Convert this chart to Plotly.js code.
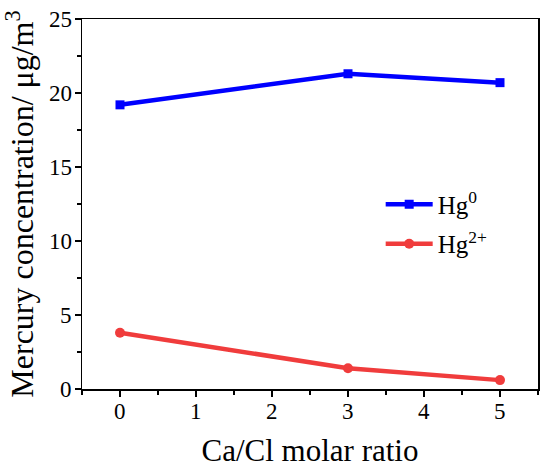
<!DOCTYPE html>
<html><head><meta charset="utf-8">
<script src="https://cdn.plot.ly/plotly-3.0.1.min.js"></script>
<style>html,body{margin:0;padding:0;background:#fff}</style>
</head><body><div id="chart" style="width:550px;height:475px"></div>
<script>
const ratios = [0, 3, 5];
const hg0 = [19.2, 21.3, 20.7];
const hg2 = [3.8, 1.4, 0.6];
const seriesNames = ['Hg<sup>0</sup>', 'Hg<sup>2+</sup>'];
const xTicks = [0, 1, 2, 3, 4, 5];
const yTicks = [0, 5, 10, 15, 20, 25];

const fam = 'Liberation Serif';
const f = (s) => ({family: fam, size: s, color: '#000'});
const traces = [
  {x: ratios, y: hg0, name: seriesNames[0], legendgroup: 'a', type: 'scatter', mode: 'lines+markers',
   line: {color: '#0000ff', width: 4.5}, marker: {symbol: 'square', size: 9, color: '#0000ff'}},
  {x: ratios, y: hg2, name: seriesNames[1], legendgroup: 'b', type: 'scatter', mode: 'lines+markers',
   line: {color: '#f03c3c', width: 4.5}, marker: {symbol: 'circle', size: 10, color: '#f03c3c'}}
];
const tickAnn = [].concat(
  xTicks.map(v => ({xref: 'x', x: v, yref: 'paper', y: 0, yanchor: 'top', xanchor: 'center',
                    yshift: -8, showarrow: false, text: String(v), font: f(23)})),
  yTicks.map(v => ({xref: 'paper', x: 0, yref: 'y', y: v, xanchor: 'right', yanchor: 'middle',
                    xshift: -8, showarrow: false, text: String(v), font: f(23)}))
);
const layout = {
  width: 550, height: 475,
  margin: {l: 82, r: 12, t: 19, b: 86},
  paper_bgcolor: '#fff', plot_bgcolor: '#fff',
  font: f(23),
  showlegend: true,
  legend: {x: 0.655, y: 0.446, xanchor: 'left', yanchor: 'middle', bgcolor: 'rgba(0,0,0,0)',
           font: f(25), itemwidth: 47, tracegroupgap: 4},
  annotations: tickAnn,
  xaxis: {range: [-0.5, 5.5], tickmode: 'array', tickvals: xTicks, showticklabels: false,
          showgrid: false, zeroline: false, showline: true, linecolor: '#000', linewidth: 1.5,
          mirror: true, ticks: 'outside', ticklen: 6, tickwidth: 1.5, tickcolor: '#000',
          minor: {dtick: 0.5, tick0: 0.5, ticks: 'outside', ticklen: 4, tickwidth: 1.2, tickcolor: '#000'},
          title: {text: 'Ca/Cl molar ratio', font: f(31), standoff: 44}},
  yaxis: {range: [0, 25], tickmode: 'array', tickvals: yTicks, showticklabels: false,
          showgrid: false, zeroline: false, showline: true, linecolor: '#000', linewidth: 1.5,
          mirror: true, ticks: 'outside', ticklen: 6, tickwidth: 1.5, tickcolor: '#000',
          minor: {dtick: 2.5, tick0: 0, ticks: 'outside', ticklen: 4, tickwidth: 1.2, tickcolor: '#000'},
          title: {text: 'Mercury concentration/ μg/m<sup>3</sup>', font: f(32), standoff: 36}}
};
Plotly.newPlot('chart', traces, layout, {displayModeBar: false, staticPlot: true});
</script></body></html>
